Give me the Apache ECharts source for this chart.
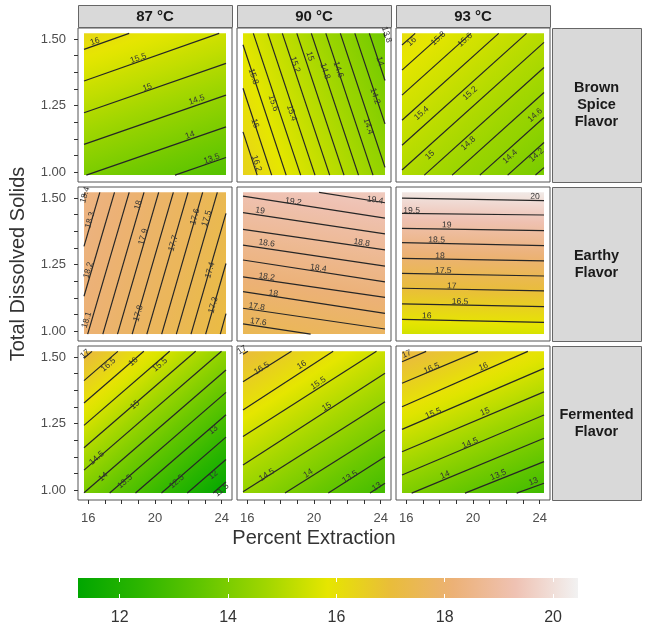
<!DOCTYPE html>
<html>
<head>
<meta charset="utf-8">
<script src="https://cdn.jsdelivr.net/npm/echarts@6/dist/echarts.min.js"></script>
<style>
  html, body { margin: 0; padding: 0; background: #fff; }
  #chart { width: 647px; height: 634px; }
</style>
</head>
<body>
<div id="chart"></div>
<script>
// facet labels
const temps = ['87 °C', '90 °C', '93 °C'];
const flavors = ['Brown\nSpice\nFlavor', 'Earthy\nFlavor', 'Fermented\nFlavor'];

// axis ticks
const xTicks = [16, 17, 18, 19, 20, 21, 22, 23, 24];
const xTickLabels = [16, 20, 24];
const yTicks = [1, 1.0625, 1.125, 1.1875, 1.25, 1.3125, 1.375, 1.4375, 1.5];
const yTickLabels = [1.0, 1.25, 1.5];
const colorTicks = [12, 14, 16, 18, 20];

// extent of the fitted surface and of the colour scale
const surfaceX = [15.74, 24.26];
const surfaceY = [0.989, 1.521];
const colorRange = [11.23, 20.46];
const terrain = ['#00A600', '#2DB600', '#63C600', '#A0D600', '#E6E600',
                 '#E9BD3A', '#ECB176', '#EFC2B3', '#F2F2F2'];

// contour lines: [level, x1, y1, x2, y2]   labels: [level, x, y]
const brown87Lines = [
  [16, 15.74, 1.461, 18.45, 1.521], [15.5, 15.74, 1.342, 23.85, 1.521],
  [15, 15.74, 1.223, 24.26, 1.408], [14.5, 15.74, 1.104, 24.26, 1.289],
  [14, 15.88, 0.989, 24.26, 1.170], [13.5, 21.2, 0.989, 24.26, 1.055]
];
const brown87Labels = [
  [16, 16.40, 1.490], [15.5, 19.00, 1.427], [15, 19.54, 1.318],
  [14.5, 22.50, 1.271], [14, 22.10, 1.139], [13.5, 23.40, 1.050]
];
const brown90Lines = [
  [13.8, 24.19, 1.521, 24.26, 1.507], [14, 23.32, 1.521, 24.26, 1.344],
  [14.2, 22.45, 1.521, 24.26, 1.181], [14.4, 21.58, 1.521, 24.26, 1.018],
  [14.6, 20.71, 1.521, 23.54, 0.989], [14.8, 19.84, 1.521, 22.67, 0.989],
  [15, 18.97, 1.521, 21.80, 0.989], [15.2, 18.10, 1.521, 20.94, 0.989],
  [15.4, 17.23, 1.521, 20.06, 0.989], [15.6, 16.36, 1.521, 19.20, 0.989],
  [15.8, 15.74, 1.478, 18.33, 0.989], [16, 15.74, 1.315, 17.46, 0.989],
  [16.2, 15.74, 1.151, 16.59, 0.989]
];
const brown90Labels = [
  [15.8, 16.36, 1.359], [15.6, 17.56, 1.259], [15.4, 18.66, 1.222],
  [15.2, 18.86, 1.404], [15, 19.76, 1.435], [14.8, 20.66, 1.379],
  [14.6, 21.46, 1.385], [14.4, 23.26, 1.172], [14.2, 23.66, 1.285],
  [14, 23.96, 1.416], [16, 16.46, 1.183], [16.2, 16.56, 1.033], [13.8, 24.36, 1.516]
];
const brown93Lines = [
  [16, 15.74, 1.477, 16.53, 1.521], [15.8, 15.74, 1.383, 18.20, 1.521],
  [15.6, 15.74, 1.289, 19.87, 1.521], [15.4, 15.74, 1.195, 21.54, 1.521],
  [15.2, 15.74, 1.101, 23.21, 1.521], [15, 15.74, 1.008, 24.26, 1.487],
  [14.8, 17.08, 0.989, 24.26, 1.393], [14.6, 18.75, 0.989, 24.26, 1.299],
  [14.4, 20.41, 0.989, 24.26, 1.205], [14.2, 22.08, 0.989, 24.26, 1.111],
  [14, 23.75, 0.989, 24.26, 1.017]
];
const brown93Labels = [
  [16, 16.32, 1.490], [15.8, 17.92, 1.502], [15.6, 19.52, 1.496],
  [15.4, 16.92, 1.221], [15.2, 19.82, 1.296], [15, 17.42, 1.064],
  [14.8, 19.72, 1.108], [14.6, 23.72, 1.214], [14.4, 22.22, 1.058], [14.2, 23.82, 1.064]
];
const earthy87Lines = [
  [18.4, 15.74, 1.505, 15.81, 1.521], [18.3, 15.74, 1.318, 16.69, 1.521],
  [18.2, 15.74, 1.131, 17.57, 1.521], [18.1, 15.96, 0.989, 18.45, 1.521],
  [18, 16.87, 0.989, 19.34, 1.521], [17.9, 17.75, 0.989, 20.22, 1.521],
  [17.8, 18.63, 0.989, 21.10, 1.521], [17.7, 19.51, 0.989, 21.98, 1.521],
  [17.6, 20.40, 0.989, 22.86, 1.521], [17.5, 21.28, 0.989, 23.74, 1.521],
  [17.4, 22.16, 0.989, 24.26, 1.442], [17.3, 23.04, 0.989, 24.26, 1.254],
  [17.2, 23.92, 0.989, 24.26, 1.066]
];
const earthy87Labels = [
  [18.4, 15.80, 1.511], [18.3, 16.10, 1.417], [18.2, 16.00, 1.229],
  [18.1, 15.90, 1.042], [18, 19.00, 1.473], [17.9, 19.30, 1.354],
  [17.8, 19.00, 1.067], [17.7, 21.10, 1.330], [17.6, 22.40, 1.429],
  [17.5, 23.10, 1.423], [17.4, 23.30, 1.229], [17.3, 23.50, 1.098]
];
const earthy90Lines = [
  [19.4, 20.3, 1.521, 24.26, 1.482], [19.2, 15.74, 1.507, 24.26, 1.424],
  [19, 15.74, 1.445, 24.26, 1.365], [18.8, 15.74, 1.382, 24.26, 1.305],
  [18.6, 15.74, 1.323, 24.26, 1.244], [18.4, 15.74, 1.267, 24.26, 1.185],
  [18.2, 15.74, 1.204, 24.26, 1.127], [18, 15.74, 1.148, 24.26, 1.067],
  [17.8, 15.74, 1.086, 24.26, 1.008], [17.6, 15.74, 1.027, 19.8, 0.989]
];
const earthy90Labels = [
  [19.4, 23.66, 1.492], [19.2, 18.76, 1.486], [19, 16.76, 1.452],
  [18.8, 22.86, 1.332], [18.6, 17.16, 1.330], [18.4, 20.26, 1.236],
  [18.2, 17.16, 1.204], [18, 17.56, 1.142], [17.8, 16.56, 1.092], [17.6, 16.66, 1.035]
];
const earthy93Lines = [
  [20, 15.74, 1.499, 24.26, 1.490], [19.5, 15.74, 1.442, 24.26, 1.436],
  [19, 15.74, 1.386, 24.26, 1.377], [18.5, 15.74, 1.332, 24.26, 1.321],
  [18, 15.74, 1.273, 24.26, 1.264], [17.5, 15.74, 1.217, 24.26, 1.207],
  [17, 15.74, 1.161, 24.26, 1.151], [16.5, 15.74, 1.102, 24.26, 1.092],
  [16, 15.74, 1.044, 24.26, 1.033]
];
const earthy93Labels = [
  [20, 23.72, 1.505], [19.5, 16.32, 1.452], [19, 18.42, 1.398],
  [18.5, 17.82, 1.342], [18, 18.02, 1.282], [17.5, 18.22, 1.227],
  [17, 18.72, 1.169], [16.5, 19.22, 1.110], [16, 17.22, 1.057]
];
const ferm87Lines = [
  [17, 15.74, 1.495, 16.22, 1.521], [16.5, 15.74, 1.411, 17.77, 1.521],
  [16, 15.74, 1.327, 19.33, 1.521], [15.5, 15.74, 1.243, 20.88, 1.521],
  [15, 15.74, 1.159, 22.44, 1.521], [14.5, 15.74, 1.075, 23.99, 1.521],
  [14, 15.74, 0.990, 24.26, 1.451], [13.5, 17.28, 0.989, 24.26, 1.367],
  [13, 18.83, 0.989, 24.26, 1.283], [12.5, 20.39, 0.989, 24.26, 1.199],
  [12, 21.94, 0.989, 24.26, 1.115], [11.5, 23.49, 0.989, 24.26, 1.031]
];
const ferm87Labels = [
  [17, 15.80, 1.511], [16.5, 17.20, 1.470], [16, 18.70, 1.482],
  [15.5, 20.30, 1.470], [15, 18.80, 1.320], [14.5, 16.50, 1.120],
  [14, 16.90, 1.050], [13.5, 18.20, 1.032], [13, 23.50, 1.226],
  [12.5, 21.30, 1.032], [12, 23.50, 1.057], [11.5, 24.00, 1.000]
];
const ferm90Lines = [
  [17, 15.74, 1.510, 16.03, 1.521], [16.5, 15.74, 1.407, 18.65, 1.521],
  [16, 15.74, 1.301, 21.15, 1.521], [15.5, 15.74, 1.201, 23.75, 1.521],
  [15, 15.74, 1.094, 24.26, 1.439], [14.5, 15.74, 0.994, 24.26, 1.332],
  [14, 18.26, 0.989, 24.26, 1.226], [13.5, 20.86, 0.989, 24.26, 1.125],
  [13, 23.36, 0.989, 24.26, 1.026]
];
const ferm90Labels = [
  [17, 15.68, 1.526], [16.5, 16.86, 1.457], [16, 19.26, 1.470],
  [15.5, 20.26, 1.401], [15, 20.76, 1.313], [14.5, 17.16, 1.057],
  [14, 19.66, 1.063], [13.5, 22.16, 1.050], [13, 23.76, 1.013]
];
const ferm93Lines = [
  [17, 15.74, 1.482, 17.19, 1.521], [16.5, 15.74, 1.401, 20.29, 1.521],
  [16, 15.74, 1.313, 23.29, 1.521], [15.5, 15.74, 1.228, 24.26, 1.457],
  [15, 15.74, 1.144, 24.26, 1.369], [14.5, 15.74, 1.057, 24.26, 1.282],
  [14, 16.32, 0.989, 24.26, 1.195], [13.5, 19.52, 0.989, 24.26, 1.107],
  [13, 22.62, 0.989, 24.26, 1.026]
];
const ferm93Labels = [
  [17, 16.02, 1.511], [16.5, 17.52, 1.457], [16, 20.62, 1.463],
  [15.5, 17.62, 1.288], [15, 20.72, 1.294], [14.5, 19.82, 1.176],
  [14, 18.32, 1.057], [13.5, 21.52, 1.057], [13, 23.62, 1.032]
];

// panels in row order (flavour rows, temperature columns)
const panels = [
  { lines: brown87Lines, labels: brown87Labels },
  { lines: brown90Lines, labels: brown90Labels },
  { lines: brown93Lines, labels: brown93Labels },
  { lines: earthy87Lines, labels: earthy87Labels },
  { lines: earthy90Lines, labels: earthy90Labels },
  { lines: earthy93Lines, labels: earthy93Labels },
  { lines: ferm87Lines, labels: ferm87Labels },
  { lines: ferm90Lines, labels: ferm90Labels },
  { lines: ferm93Lines, labels: ferm93Labels }
];

//
// layout
//
const FONT = '"Liberation Sans", Arial, Helvetica, sans-serif';
const COL_LEFT = [78, 237, 396];
const ROW_TOP = [28, 187, 346];
const SIZE = 154;

function hexToRgb (h) {
  return [parseInt(h.slice(1, 3), 16), parseInt(h.slice(3, 5), 16), parseInt(h.slice(5, 7), 16)];
}
const paletteRgb = terrain.map(hexToRgb);

// value -> terrain colour, same scale as the colour bar
function colorAt (v) {
  let t = (v - colorRange[0]) / (colorRange[1] - colorRange[0]);
  t = Math.max(0, Math.min(1, t)) * (paletteRgb.length - 1);
  const i = Math.min(Math.floor(t), paletteRgb.length - 2);
  const f = t - i;
  const a = paletteRgb[i], b = paletteRgb[i + 1];
  const c = a.map((x, k) => Math.round(x + (b[k] - x) * f));
  return 'rgb(' + c.join(',') + ')';
}

// direction of the contours in pixels, and a linear fit of level across them
function contourFrame (api, lines) {
  let sx = 0, sy = 0;
  const segs = lines.map(l => {
    const a = api.coord([l[1], l[2]]);
    const b = api.coord([l[3], l[4]]);
    let ux = b[0] - a[0], uy = b[1] - a[1];
    if (ux < 0) { ux = -ux; uy = -uy; }
    sx += ux; sy += uy;
    return { level: l[0], mx: (a[0] + b[0]) / 2, my: (a[1] + b[1]) / 2 };
  });
  const len = Math.hypot(sx, sy);
  const ux = sx / len, uy = sy / len;
  const nx = -uy, ny = ux;
  const s = segs.map(g => g.mx * nx + g.my * ny);
  const n = segs.length;
  const ms = s.reduce((p, q) => p + q, 0) / n;
  const ml = segs.reduce((p, g) => p + g.level, 0) / n;
  let cov = 0, vs = 0;
  segs.forEach((g, k) => { cov += (s[k] - ms) * (g.level - ml); vs += (s[k] - ms) * (s[k] - ms); });
  const beta = cov / vs;
  return { ux, uy, nx, ny, beta, alpha: ml - beta * ms };
}

function surfaceItem (api, lines) {
  const f = contourFrame(api, lines);
  const tl = api.coord([surfaceX[0], surfaceY[1]]);
  const br = api.coord([surfaceX[1], surfaceY[0]]);
  const corners = [[tl[0], tl[1]], [br[0], tl[1]], [tl[0], br[1]], [br[0], br[1]]];
  const proj = corners.map(q => q[0] * f.nx + q[1] * f.ny);
  const smin = Math.min(...proj), smax = Math.max(...proj);
  const cx = (tl[0] + br[0]) / 2, cy = (tl[1] + br[1]) / 2;
  const sc = cx * f.nx + cy * f.ny;
  const stops = [];
  for (let k = 0; k <= 24; k++) {
    const t = k / 24;
    stops.push({ offset: t, color: colorAt(f.alpha + f.beta * (smin + t * (smax - smin))) });
  }
  const grad = new echarts.graphic.LinearGradient(
    cx + f.nx * (smin - sc), cy + f.ny * (smin - sc),
    cx + f.nx * (smax - sc), cy + f.ny * (smax - sc), stops, true);
  return {
    type: 'rect',
    shape: { x: tl[0], y: tl[1], width: br[0] - tl[0], height: br[1] - tl[1] },
    style: { fill: grad }
  };
}

function lineItem (params, api) {
  const a = api.coord([api.value(1), api.value(2)]);
  const b = api.coord([api.value(3), api.value(4)]);
  return {
    type: 'line',
    shape: { x1: a[0], y1: a[1], x2: b[0], y2: b[1] },
    style: { stroke: '#262626', lineWidth: 1.2 }
  };
}

function labelItem (api, lines) {
  const f = contourFrame(api, lines);
  const p = api.coord([api.value(1), api.value(2)]);
  return {
    type: 'text',
    x: p[0],
    y: p[1],
    rotation: -Math.atan2(f.uy, f.ux),
    style: {
      text: String(api.value(0)),
      fontSize: 8.5,
      fontFamily: FONT,
      fill: '#333',
      align: 'center',
      verticalAlign: 'middle'
    }
  };
}

const grids = [], xAxes = [], yAxes = [], series = [];

panels.forEach((p, i) => {
  const r = Math.floor(i / 3), c = i % 3;
  grids.push({
    left: COL_LEFT[c], top: ROW_TOP[r], width: SIZE, height: SIZE,
    show: true, backgroundColor: '#fff', borderColor: '#555', borderWidth: 1
  });
  xAxes.push({
    gridIndex: i, type: 'value', min: 15.38, max: 24.62,
    axisLine: { show: false }, splitLine: { show: false },
    axisTick: { show: r === 2, customValues: xTicks, length: 4, lineStyle: { color: '#333' } },
    axisLabel: { show: r === 2, customValues: xTickLabels, fontSize: 13, fontFamily: FONT, color: '#4d4d4d', margin: 12 }
  });
  yAxes.push({
    gridIndex: i, type: 'value', min: 0.963, max: 1.541,
    axisLine: { show: false }, splitLine: { show: false },
    axisTick: { show: c === 0, customValues: yTicks, length: 4, lineStyle: { color: '#333' } },
    axisLabel: {
      show: c === 0, customValues: yTickLabels, fontSize: 13, fontFamily: FONT, color: '#4d4d4d', margin: 12,
      formatter: v => v.toFixed(2)
    }
  });
  series.push({
    type: 'custom', xAxisIndex: i, yAxisIndex: i, silent: true, z: 1,
    data: [[20, 1.25]],
    renderItem: (params, api) => surfaceItem(api, p.lines)
  });
  series.push({
    type: 'custom', xAxisIndex: i, yAxisIndex: i, silent: true, z: 2,
    data: p.lines, renderItem: lineItem
  });
  series.push({
    type: 'custom', xAxisIndex: i, yAxisIndex: i, silent: true, z: 3,
    data: p.labels, renderItem: (params, api) => labelItem(api, p.lines)
  });
});

// colour bar
const cb = panels.length;
grids.push({ left: 78, top: 578, width: 500, height: 20 });
xAxes.push({
  gridIndex: cb, type: 'value', min: colorRange[0], max: colorRange[1], z: 5,
  axisLine: { show: false }, splitLine: { show: false },
  axisTick: { show: true, inside: true, customValues: colorTicks, length: 4, lineStyle: { color: '#fff', width: 1 } },
  axisLabel: { show: true, customValues: colorTicks, fontSize: 16, fontFamily: FONT, color: '#333', margin: 12 }
});
xAxes.push({
  gridIndex: cb, type: 'value', position: 'top', min: colorRange[0], max: colorRange[1], z: 5,
  axisLine: { show: false }, splitLine: { show: false }, axisLabel: { show: false },
  axisTick: { show: true, inside: true, customValues: colorTicks, length: 4, lineStyle: { color: '#fff', width: 1 } }
});
yAxes.push({ gridIndex: cb, type: 'value', min: 0, max: 1, show: false });
series.push({
  type: 'custom', xAxisIndex: cb, yAxisIndex: cb, silent: true, z: 1,
  data: [[colorRange[0], 0]],
  renderItem: (params, api) => {
    const a = api.coord([colorRange[0], 1]);
    const b = api.coord([colorRange[1], 0]);
    const stops = terrain.map((col, k) => ({ offset: k / (terrain.length - 1), color: col }));
    return {
      type: 'rect',
      shape: { x: a[0], y: a[1], width: b[0] - a[0], height: b[1] - a[1] },
      style: { fill: new echarts.graphic.LinearGradient(0, 0, 1, 0, stops) }
    };
  }
});

// facet strips and axis titles
const graphics = [];
temps.forEach((t, c) => {
  graphics.push({
    type: 'rect', left: COL_LEFT[c], top: 5,
    shape: { width: SIZE, height: 22 },
    style: { fill: '#D9D9D9', stroke: '#666', lineWidth: 1 }
  });
  graphics.push({
    type: 'text', x: COL_LEFT[c] + SIZE / 2, y: 16.5,
    style: { text: t, fontSize: 15, fontWeight: 'bold', fontFamily: FONT, fill: '#1a1a1a',
      align: 'center', verticalAlign: 'middle', textAlign: 'center', textVerticalAlign: 'middle' }
  });
});
flavors.forEach((f, r) => {
  graphics.push({
    type: 'rect', left: 552, top: ROW_TOP[r],
    shape: { width: 89, height: SIZE },
    style: { fill: '#D9D9D9', stroke: '#666', lineWidth: 1 }
  });
  graphics.push({
    type: 'text', x: 596.5, y: ROW_TOP[r] + SIZE / 2,
    style: { text: f, fontSize: 14.5, lineHeight: 17, fontWeight: 'bold', fontFamily: FONT, fill: '#1a1a1a',
      align: 'center', verticalAlign: 'middle', textAlign: 'center', textVerticalAlign: 'middle' }
  });
});
graphics.push({
  type: 'text', x: 314, y: 538,
  style: { text: 'Percent Extraction', fontSize: 20, fontFamily: FONT, fill: '#333',
    align: 'center', verticalAlign: 'middle', textAlign: 'center', textVerticalAlign: 'middle' }
});
graphics.push({
  type: 'text', x: 18, y: 264, rotation: Math.PI / 2,
  style: { text: 'Total Dissolved Solids', fontSize: 20, fontFamily: FONT, fill: '#333',
    align: 'center', verticalAlign: 'middle', textAlign: 'center', textVerticalAlign: 'middle' }
});

const chart = echarts.init(document.getElementById('chart'), null, { renderer: 'canvas', width: 647, height: 634 });
chart.setOption({
  animation: false,
  backgroundColor: '#fff',
  grid: grids,
  xAxis: xAxes,
  yAxis: yAxes,
  series: series,
  graphic: graphics
});
</script>
</body>
</html>
